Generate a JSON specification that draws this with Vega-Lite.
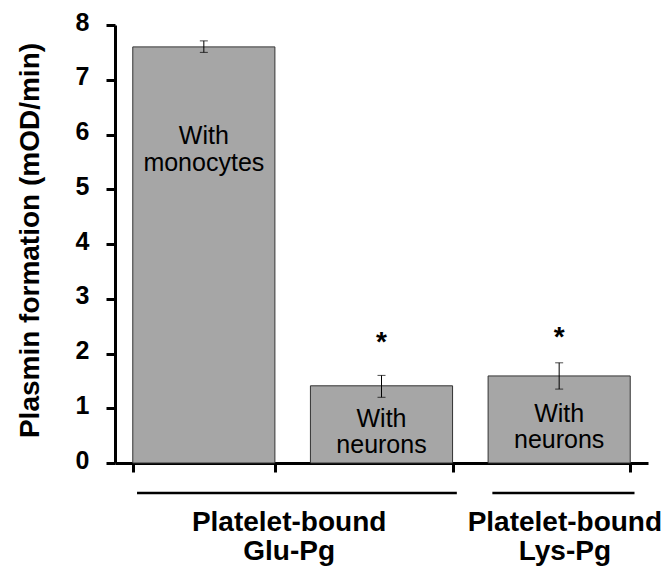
{
  "$schema": "https://vega.github.io/schema/vega-lite/v6.json",
  "width": 533,
  "height": 438,
  "autosize": {"type": "none"},
  "padding": {"left": 115, "top": 25, "right": 17, "bottom": 103},
  "background": "white",
  "config": {"view": {"stroke": null}, "font": "Liberation Sans"},
  "datasets": {
    "bars": [
      {"bar": "Glu-Pg + monocytes", "plasmin": 7.6, "lo": 7.5, "hi": 7.71, "cells": "With\nmonocytes", "sig": ""},
      {"bar": "Glu-Pg + neurons", "plasmin": 1.41, "lo": 1.2, "hi": 1.6, "cells": "With\nneurons", "sig": "*"},
      {"bar": "Lys-Pg + neurons", "plasmin": 1.59, "lo": 1.35, "hi": 1.83, "cells": "With\nneurons", "sig": "*"}
    ],
    "groups": [
      {"group": "Platelet-bound\nGlu-Pg", "from": "Glu-Pg + monocytes", "to": "Glu-Pg + neurons"},
      {"group": "Platelet-bound\nLys-Pg", "from": "Lys-Pg + neurons", "to": "Lys-Pg + neurons"}
    ]
  },
  "data": {"name": "bars"},
  "layer": [
    {
      "mark": {"type": "bar", "color": "#a6a6a6", "stroke": "#333333", "strokeWidth": 1},
      "encoding": {
        "x": {
          "field": "bar", "type": "nominal", "sort": null,
          "scale": {"type": "band", "domain": ["Glu-Pg + monocytes", "Glu-Pg + neurons", "Lys-Pg + neurons"], "paddingInner": 0.2, "paddingOuter": 0.1},
          "axis": {"title": null, "labels": false, "ticks": true, "tickBand": "extent", "tickSize": 9, "tickWidth": 3, "tickColor": "black", "domainColor": "black", "domainWidth": 3, "grid": false}
        },
        "y": {
          "field": "plasmin", "type": "quantitative",
          "scale": {"domain": [0, 8], "nice": false, "zero": true},
          "axis": {
            "values": [0, 1, 2, 3, 4, 5, 6, 7, 8],
            "title": "Plasmin formation (mOD/min)",
            "titleFont": "Liberation Sans", "titleFontSize": 28, "titleFontWeight": "bold", "titleColor": "black",
            "titleAngle": -90, "titleX": -85, "titleY": 215, "titleAlign": "center", "titleBaseline": "middle",
            "labelFont": "Liberation Sans", "labelFontSize": 25, "labelFontWeight": "bold", "labelColor": "black",
            "labelPadding": 17, "labelOffset": -3,
            "tickSize": 9, "tickWidth": 3, "tickColor": "black",
            "domainColor": "black", "domainWidth": 3, "grid": false
          }
        }
      }
    },
    {
      "mark": {"type": "rule", "color": "black", "strokeWidth": 1},
      "encoding": {
        "x": {"field": "bar", "type": "nominal", "sort": null},
        "y": {"field": "lo", "type": "quantitative"},
        "y2": {"field": "hi"}
      }
    },
    {
      "mark": {"type": "tick", "color": "black", "thickness": 1, "size": 8},
      "encoding": {
        "x": {"field": "bar", "type": "nominal", "sort": null},
        "y": {"field": "lo", "type": "quantitative"}
      }
    },
    {
      "mark": {"type": "tick", "color": "black", "thickness": 1, "size": 8},
      "encoding": {
        "x": {"field": "bar", "type": "nominal", "sort": null},
        "y": {"field": "hi", "type": "quantitative"}
      }
    },
    {
      "transform": [{"filter": "datum.bar == 'Glu-Pg + monocytes'"}],
      "mark": {"type": "text", "font": "Liberation Sans", "fontSize": 25, "lineBreak": "\n", "lineHeight": 27, "baseline": "alphabetic", "align": "center", "color": "black"},
      "encoding": {
        "x": {"field": "bar", "type": "nominal", "sort": null},
        "y": {"datum": 5.83, "type": "quantitative"},
        "text": {"field": "cells"}
      }
    },
    {
      "transform": [{"filter": "datum.bar == 'Glu-Pg + neurons'"}],
      "mark": {"type": "text", "font": "Liberation Sans", "fontSize": 25, "lineBreak": "\n", "lineHeight": 26, "baseline": "alphabetic", "align": "center", "color": "black"},
      "encoding": {
        "x": {"field": "bar", "type": "nominal", "sort": null},
        "y": {"datum": 0.66, "type": "quantitative"},
        "text": {"field": "cells"}
      }
    },
    {
      "transform": [{"filter": "datum.bar == 'Lys-Pg + neurons'"}],
      "mark": {"type": "text", "font": "Liberation Sans", "fontSize": 25, "lineBreak": "\n", "lineHeight": 26, "baseline": "alphabetic", "align": "center", "color": "black"},
      "encoding": {
        "x": {"field": "bar", "type": "nominal", "sort": null},
        "y": {"datum": 0.75, "type": "quantitative"},
        "text": {"field": "cells"}
      }
    },
    {
      "transform": [{"filter": "datum.bar == 'Glu-Pg + neurons'"}],
      "mark": {"type": "text", "font": "Liberation Sans", "fontSize": 28, "fontWeight": "bold", "baseline": "alphabetic", "align": "center", "color": "black"},
      "encoding": {
        "x": {"field": "bar", "type": "nominal", "sort": null},
        "y": {"datum": 2.05, "type": "quantitative"},
        "text": {"field": "sig"}
      }
    },
    {
      "transform": [{"filter": "datum.bar == 'Lys-Pg + neurons'"}],
      "mark": {"type": "text", "font": "Liberation Sans", "fontSize": 28, "fontWeight": "bold", "baseline": "alphabetic", "align": "center", "color": "black"},
      "encoding": {
        "x": {"field": "bar", "type": "nominal", "sort": null},
        "y": {"datum": 2.14, "type": "quantitative"},
        "text": {"field": "sig"}
      }
    },
    {
      "data": {"name": "groups"},
      "mark": {"type": "rule", "color": "black", "strokeWidth": 2.5},
      "encoding": {
        "x": {"field": "from", "type": "nominal", "sort": null, "bandPosition": 0.03},
        "x2": {"field": "to", "bandPosition": 1.03},
        "y": {"datum": -0.55, "type": "quantitative"}
      }
    },
    {
      "data": {"name": "groups"},
      "transform": [{"filter": "datum.from == 'Glu-Pg + monocytes'"}],
      "mark": {"type": "text", "font": "Liberation Sans", "fontSize": 28, "fontWeight": "bold", "lineBreak": "\n", "lineHeight": 29, "baseline": "alphabetic", "align": "center", "color": "black"},
      "encoding": {
        "x": {"datum": "Glu-Pg + neurons", "type": "nominal", "bandPosition": -0.15},
        "y": {"datum": -1.24, "type": "quantitative"},
        "text": {"field": "group"}
      }
    },
    {
      "data": {"name": "groups"},
      "transform": [{"filter": "datum.from == 'Lys-Pg + neurons'"}],
      "mark": {"type": "text", "font": "Liberation Sans", "fontSize": 28, "fontWeight": "bold", "lineBreak": "\n", "lineHeight": 29, "baseline": "alphabetic", "align": "center", "color": "black"},
      "encoding": {
        "x": {"datum": "Lys-Pg + neurons", "type": "nominal", "bandPosition": 0.54},
        "y": {"datum": -1.24, "type": "quantitative"},
        "text": {"field": "group"}
      }
    }
  ]
}
